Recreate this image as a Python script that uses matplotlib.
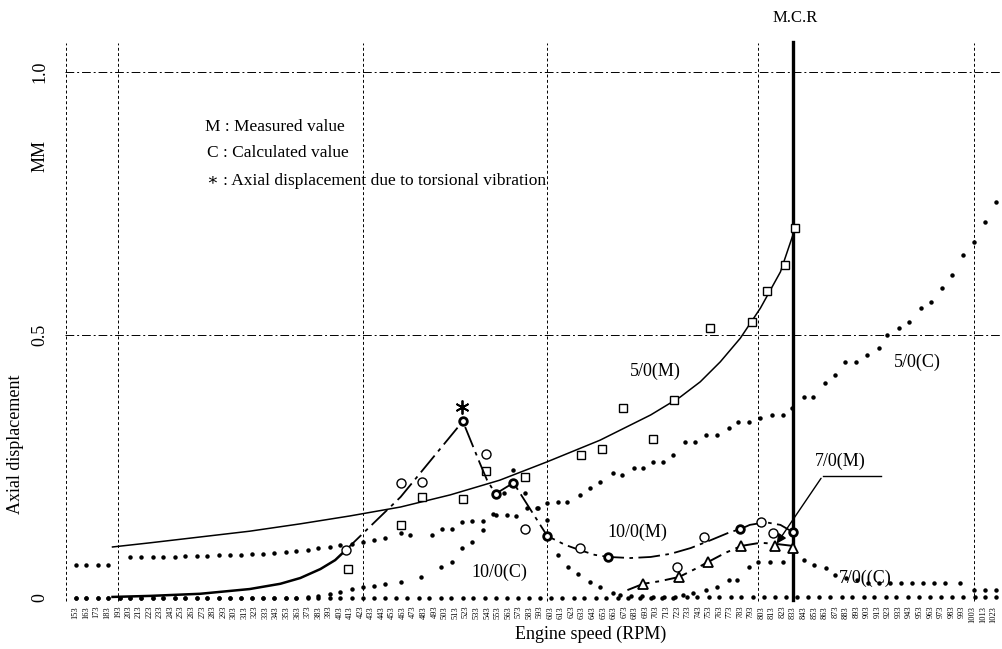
import numpy as np
import matplotlib.pyplot as plt

plt.rcParams['font.family'] = ['Liberation Serif', 'DejaVu Serif']

# ---------------- data (engine speed in RPM, axial displacement in MM) ----------------
# 5/0 order, measured
m5_line_rpm = [188, 224, 271, 318, 366, 413, 461, 508, 555, 600, 650, 698, 726, 745, 764, 783, 802, 821, 835]
m5_line_val = [0.097, 0.105, 0.116, 0.127, 0.141, 0.156, 0.173, 0.196, 0.224, 0.259, 0.300, 0.348, 0.382,
               0.411, 0.449, 0.494, 0.551, 0.620, 0.703]
m5_pts_rpm = [411, 461, 481, 520, 542, 579, 632, 652, 672, 700, 720, 754, 794, 808, 825, 835]
m5_pts_val = [0.055, 0.139, 0.192, 0.188, 0.241, 0.230, 0.272, 0.283, 0.361, 0.302, 0.376, 0.513, 0.525,
              0.584, 0.633, 0.703]

# 10/0 order, measured
m10_line_rpm = [188, 224, 271, 318, 347, 366, 385, 399, 409, 461, 520, 536, 543, 551, 568, 600, 617, 631, 645,
                658, 679, 698, 717, 736, 755, 773, 783, 792, 807, 821, 833]
m10_line_val = [0.002, 0.004, 0.008, 0.017, 0.027, 0.038, 0.055, 0.072, 0.091, 0.192, 0.336, 0.257, 0.224,
                0.198, 0.219, 0.118, 0.101, 0.091, 0.082, 0.078, 0.076, 0.078, 0.084, 0.095, 0.110, 0.125,
                0.131, 0.139, 0.144, 0.139, 0.125]
m10_pts_rpm = [409, 461, 481, 542, 579, 631, 723, 749, 803, 814]
m10_pts_val = [0.091, 0.219, 0.221, 0.274, 0.131, 0.095, 0.059, 0.116, 0.144, 0.124]
m10_vert_rpm = [520, 551, 568, 600, 658, 783, 833]
m10_vert_val = [0.336, 0.198, 0.219, 0.118, 0.078, 0.131, 0.125]

# 7/0 order, measured
m7_line_rpm = [676, 691, 707, 725, 740, 752, 769, 784, 802, 816, 833]
m7_line_val = [0.015, 0.027, 0.032, 0.040, 0.055, 0.068, 0.086, 0.099, 0.105, 0.103, 0.099]
m7_pts_rpm = [691, 725, 752, 784, 816, 833]
m7_pts_val = [0.027, 0.040, 0.068, 0.099, 0.099, 0.095]

# torsional vibration point
star_rpm, star_val = 519, 0.363

# 5/0 order, calculated
c5_rpm = [153, 163, 174, 184, 205, 215, 226, 236, 247, 257, 268, 278, 289, 299, 310, 320, 331, 341, 352, 362,
          373, 383, 394, 404, 415, 425, 436, 446, 461, 470, 491, 500, 510, 519, 529, 539, 551, 562, 570, 581,
          591, 600, 610, 619, 631, 641, 650, 662, 671, 682, 691, 700, 710, 719, 731, 740, 750, 761, 772, 781,
          791, 802, 813, 823, 832, 843, 852, 863, 873, 882, 893, 903, 914, 922, 933, 943, 954, 964, 974, 984,
          994, 1004, 1015, 1025]
c5_val = [0.063, 0.063, 0.063, 0.063, 0.078, 0.078, 0.078, 0.078, 0.078, 0.080, 0.080, 0.080, 0.082, 0.082,
          0.082, 0.084, 0.084, 0.086, 0.088, 0.090, 0.092, 0.095, 0.097, 0.100, 0.103, 0.106, 0.110, 0.114,
          0.124, 0.120, 0.120, 0.131, 0.131, 0.144, 0.146, 0.146, 0.158, 0.158, 0.156, 0.171, 0.171, 0.181,
          0.183, 0.183, 0.196, 0.209, 0.221, 0.238, 0.234, 0.247, 0.247, 0.259, 0.259, 0.272, 0.297, 0.297,
          0.310, 0.310, 0.323, 0.335, 0.335, 0.342, 0.348, 0.348, 0.361, 0.382, 0.382, 0.409, 0.424, 0.449,
          0.449, 0.462, 0.475, 0.500, 0.513, 0.525, 0.551, 0.563, 0.589, 0.614, 0.652, 0.677, 0.715, 0.753]

# 10/0 order, calculated
c10_rpm = [153, 163, 174, 184, 195, 205, 215, 226, 236, 247, 257, 268, 278, 289, 299, 310, 320, 331, 341, 352,
           362, 373, 383, 394, 404, 415, 425, 436, 446, 461, 480, 499, 510, 519, 529, 539, 549, 559, 568, 579,
           590, 600, 610, 620, 629, 641, 650, 662, 669, 679, 690, 700, 711, 721, 732, 742, 753, 763, 774, 784,
           795, 805, 816, 826, 837, 847, 858, 868, 879, 889, 900, 910, 921, 931, 942, 952, 963, 973, 984, 994,
           1005, 1015, 1025]
c10_val = [0.0, 0.0, 0.0, 0.0, 0.0, 0.0, 0.0, 0.0, 0.0, 0.0, 0.0, 0.0, 0.0, 0.0, 0.0, 0.0, 0.0, 0.0, 0.0, 0.0,
           0.0, 0.002, 0.004, 0.008, 0.012, 0.017, 0.020, 0.023, 0.026, 0.030, 0.040, 0.059, 0.068, 0.095, 0.106,
           0.129, 0.160, 0.200, 0.243, 0.200, 0.171, 0.148, 0.082, 0.059, 0.046, 0.030, 0.021, 0.010, 0.006,
           0.004, 0.003, 0.002, 0.002, 0.002, 0.002, 0.002, 0.002, 0.002, 0.002, 0.002, 0.002, 0.002, 0.002,
           0.002, 0.002, 0.002, 0.002, 0.002, 0.002, 0.002, 0.002, 0.002, 0.002, 0.002, 0.002, 0.002, 0.002,
           0.002, 0.002, 0.002, 0.002, 0.002, 0.002]

# 7/0 order, calculated
c7_rpm = [153, 163, 174, 184, 195, 205, 215, 226, 236, 247, 257, 268, 278, 289, 299, 310, 320, 331, 341, 352,
          362, 373, 383, 394, 404, 415, 425, 436, 446, 457, 467, 478, 488, 499, 509, 520, 530, 541, 551, 562,
          572, 583, 593, 604, 614, 625, 635, 646, 656, 667, 677, 688, 698, 709, 719, 729, 738, 750, 761, 772,
          780, 791, 800, 811, 823, 843, 853, 864, 873, 883, 894, 904, 914, 925, 935, 946, 956, 967, 977, 991,
          1004, 1015, 1025]
c7_val = [0.0, 0.0, 0.0, 0.0, 0.0, 0.0, 0.0, 0.0, 0.0, 0.0, 0.0, 0.0, 0.0, 0.0, 0.0, 0.0, 0.0, 0.0, 0.0, 0.0,
          0.0, 0.0, 0.0, 0.0, 0.0, 0.0, 0.0, 0.0, 0.0, 0.0, 0.0, 0.0, 0.0, 0.0, 0.0, 0.0, 0.0, 0.0, 0.0, 0.0,
          0.0, 0.0, 0.0, 0.0, 0.0, 0.0, 0.0, 0.0, 0.0, 0.0, 0.0, 0.0, 0.0, 0.0, 0.0, 0.005, 0.010, 0.015, 0.021,
          0.034, 0.034, 0.059, 0.068, 0.068, 0.068, 0.072, 0.063, 0.057, 0.044, 0.038, 0.034, 0.029, 0.029,
          0.029, 0.029, 0.029, 0.029, 0.029, 0.029, 0.029, 0.015, 0.015, 0.015]

rpm_ticks = np.arange(153, 1030, 10)
grid_rpm = [193, 425, 600, 800, 1004]
mcr_rpm = 833

# ---------------- plot ----------------
fig = plt.figure(figsize=(10.02, 6.49), dpi=100)
ax = fig.add_axes([0.0649, 0.0709, 0.9351, 0.8675])
ax.set_xlim(143, 1031)
ax.set_ylim(-0.0095, 1.061)
for s in ax.spines.values():
    s.set_visible(False)

# grid
for g in [143.5] + grid_rpm:
    ax.plot([g, g], [-0.005, 1.056], color='black', lw=0.7, ls=(0, (3, 2.5)), clip_on=False)
for h in [0.5, 1.0]:
    ax.plot([143, 1031], [h, h], color='black', lw=0.7, ls=(0, (9, 3, 2, 3)))

# M.C.R
ax.plot([mcr_rpm, mcr_rpm], [-0.003, 1.058], color='black', lw=2.4, clip_on=False)
ax.text(mcr_rpm + 2, 1.103, 'M.C.R', ha='center', va='center', fontsize=12, clip_on=False)

# calculated (dots)
dot = dict(ls='none', marker='o', ms=2.2, color='black')
ax.plot(c5_rpm, c5_val, **dot)
ax.plot(c10_rpm, c10_val, **dot)
ax.plot(c7_rpm, c7_val, **dot)

# measured
ax.plot(m5_line_rpm, m5_line_val, color='black', lw=1.1)
ax.plot(m5_pts_rpm, m5_pts_val, ls='none', marker='s', ms=5.5, mfc='white', mec='black', mew=1.0)

ax.plot(m10_line_rpm[:9], m10_line_val[:9], color='black', lw=1.8)
ax.plot(m10_line_rpm[8:], m10_line_val[8:], color='black', lw=1.3, ls=(0, (12, 3, 2, 3)))
ax.plot(m10_pts_rpm, m10_pts_val, ls='none', marker='o', ms=6.5, mfc='white', mec='black', mew=1.0)
ax.plot(m10_vert_rpm, m10_vert_val, ls='none', marker='o', ms=5.5, mfc='white', mec='black', mew=2.0)

ax.plot(m7_line_rpm, m7_line_val, color='black', lw=1.4, ls=(0, (12, 3, 2, 3)))
ax.plot(m7_pts_rpm, m7_pts_val, ls='none', marker='^', ms=7, mfc='white', mec='black', mew=1.3)

ax.plot([star_rpm], [star_val], ls='none', marker=(6, 2, 0), ms=10, color='black', mew=1.3)

# series labels
lab = dict(fontsize=13, ha='center', va='center')
ax.text(702, 0.430, '5/0(M)', **lab)
ax.text(685, 0.124, '10/0(M)', **lab)
ax.text(555, 0.049, '10/0(C)', **lab)
ax.text(951, 0.449, '5/0(C)', **lab)
ax.text(878, 0.259, '7/0(M)', **lab)
ax.text(901, 0.038, '7/0((C)', **lab)
ax.plot([916, 861], [0.232, 0.232], color='black', lw=1.0)
ax.annotate('', xy=(816, 0.099), xytext=(861, 0.232),
            arrowprops=dict(arrowstyle='-|>', color='black', lw=1.0, mutation_scale=14))

# key
key = dict(fontsize=12.5, ha='left', va='center')
ax.text(276, 0.895, 'M : Measured value', **key)
ax.text(278, 0.846, 'C : Calculated value', **key)
ax.text(278, 0.793, '\u2217 : Axial displacement due to torsional vibration', **key)

# axes text
ax.set_yticks([0, 0.5, 1.0])
ax.set_yticklabels(['0', '0.5', '1.0'], rotation=90, va='center', fontsize=13)
ax.tick_params(axis='y', length=0, pad=12)
ax.set_xticks(rpm_ticks)
ax.set_xticklabels([f'{v:.0f}' for v in rpm_ticks], rotation=90, fontsize=6)
ax.tick_params(axis='x', length=0, pad=2)

fig.text(0.040, 0.760, 'MM', rotation=90, ha='center', va='center', fontsize=13)
fig.text(0.015, 0.315, 'Axial displacement', rotation=90, ha='center', va='center', fontsize=13)
fig.text(0.589, 0.022, 'Engine speed (RPM)', ha='center', va='center', fontsize=13)

fig.savefig('out.png', dpi=100)
